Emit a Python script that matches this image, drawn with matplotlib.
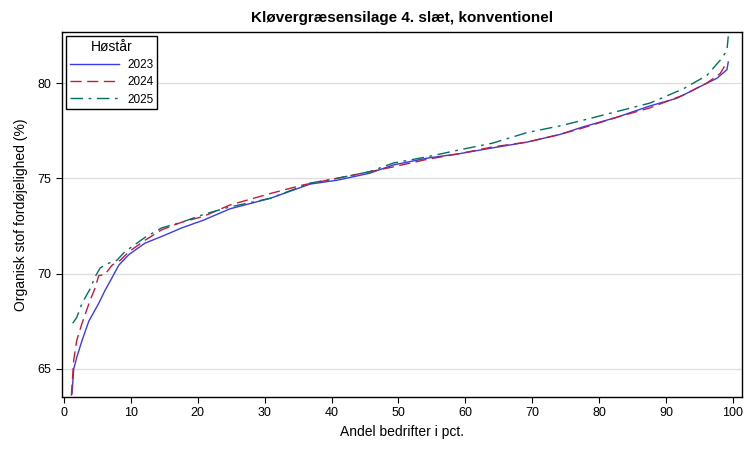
import matplotlib
matplotlib.use("Agg")
import matplotlib.pyplot as plt
import numpy as np

plt.rcParams["font.family"] = ["Liberation Sans", "DejaVu Sans"]

# percent of farms (x) and digestibility (y)
x_2023 = [1.2, 1.45, 1.9, 2.7, 3.7, 5.2, 6.1, 7.2, 8.2, 9.7, 12.1, 14.6, 17.6,
          20.8, 24.8, 30.8, 36.8, 40.8, 45.7, 49.2, 54.3, 59.2, 64.1, 69.2,
          74.1, 77.6, 82.6, 87.6, 91.6, 95.0, 97.6, 99.1, 99.3]
y_2023 = [63.7, 65.0, 65.6, 66.5, 67.5, 68.45, 69.1, 69.8, 70.45, 71.0, 71.6,
          71.95, 72.4, 72.8, 73.4, 73.95, 74.7, 74.9, 75.27, 75.7, 76.06, 76.3,
          76.6, 76.9, 77.3, 77.7, 78.2, 78.8, 79.2, 79.8, 80.25, 80.7, 81.1]

x_2024 = [1.1, 1.45, 1.9, 2.7, 3.9, 4.6, 5.2, 6.1, 7.2, 8.4, 9.7, 12.1, 14.6,
          17.6, 20.8, 24.8, 30.8, 35.7, 40.8, 45.7, 49.2, 54.3, 59.2, 64.1,
          69.2, 74.1, 77.6, 82.6, 87.6, 92.6, 96.1, 98.1, 99.1]
y_2024 = [63.6, 65.45, 66.5, 67.4, 68.6, 69.2, 69.9, 69.95, 70.45, 70.7, 71.15,
          71.75, 72.3, 72.7, 73.0, 73.6, 74.2, 74.65, 75.0, 75.35, 75.6, 76.0,
          76.3, 76.65, 76.9, 77.3, 77.65, 78.2, 78.7, 79.37, 80.0, 80.5, 81.1]

x_2025 = [1.3, 1.9, 2.7, 3.9, 4.6, 5.4, 6.7, 7.9, 9.1, 12.1, 14.6, 17.6, 20.8,
          24.8, 30.8, 36.8, 40.8, 45.7, 49.2, 54.3, 59.2, 64.1, 69.2, 74.1,
          77.6, 82.6, 87.6, 92.6, 96.1, 98.1, 99.1, 99.3]
y_2025 = [67.4, 67.7, 68.45, 69.2, 69.8, 70.3, 70.55, 70.7, 71.15, 71.9, 72.4,
          72.7, 73.1, 73.5, 73.95, 74.75, 75.0, 75.35, 75.8, 76.13, 76.5, 76.85,
          77.4, 77.75, 78.05, 78.5, 78.95, 79.7, 80.4, 81.2, 81.7, 82.45]

x_ticks = list(range(0, 101, 10))
y_ticks = [65, 70, 75, 80]

fig = plt.figure(figsize=(7.56, 4.54), dpi=100)
ax = fig.add_axes([0.082, 0.1256, 0.899, 0.804])

ax.plot(x_2023, y_2023, color="#3a3af2", linewidth=1.0, label="2023")
ax.plot(x_2024, y_2024, color="#c21b3a", linewidth=1.0,
        dashes=(8, 4), label="2024")
ax.plot(x_2025, y_2025, color="#007060", linewidth=1.0,
        dashes=(9, 4, 2, 4), label="2025")

ax.set_xlim(-0.3, 101.3)
ax.set_ylim(63.53, 82.68)
ax.set_xticks(x_ticks)
ax.set_yticks(y_ticks)
ax.tick_params(labelsize=9, length=4, width=0.8)
ax.grid(True, axis="y", color="#dddddd", linewidth=0.9)
ax.set_axisbelow(True)
for spine in ax.spines.values():
    spine.set_linewidth(1.0)

ax.set_xlabel("Andel bedrifter i pct.", fontsize=10)
ax.set_ylabel("Organisk stof fordøjelighed (%)", fontsize=10, labelpad=7)
ax.set_title("Kløvergræsensilage 4. slæt, konventionel",
             fontsize=11, fontweight="bold", pad=7)

leg = ax.legend(title="Høstår", loc="upper left", fontsize=8.5,
                title_fontsize=10, frameon=True, fancybox=False,
                borderaxespad=0.35, handlelength=4.2, handletextpad=0.7,
                borderpad=0.3, labelspacing=0.45)
leg.get_frame().set_edgecolor("black")
leg.get_frame().set_linewidth(1.0)
leg.get_frame().set_alpha(1.0)

fig.savefig("out.png", dpi=100)
